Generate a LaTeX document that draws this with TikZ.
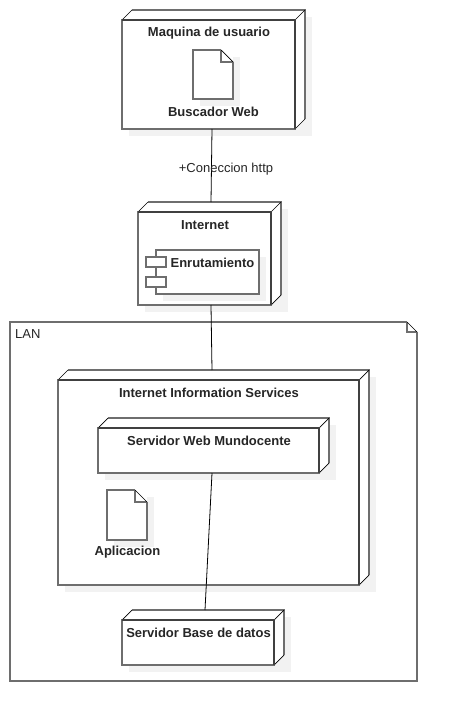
\documentclass[tikz,border=0pt]{standalone}
\usepackage{fontspec}
\setmainfont{Liberation Sans}
\usetikzlibrary{calc}
\definecolor{softgray}{HTML}{F2F2F2}
\definecolor{ink}{HTML}{262626}
\definecolor{edgegray}{HTML}{6E6E6E}
\definecolor{edgedark}{HTML}{404040}
\tikzset{
  x=1pt,y=-1pt,
  edge/.style={draw=edgegray,line width=1.5pt},
  darkedge/.style={draw=edgedark,line width=1.6pt},
  diag/.style={draw=black,line width=0.7pt},
  conn/.style={draw=black,line width=0.8pt},
  softshadow/.style={fill=softgray,draw=none},
  bold label/.style={font=\fontsize{13}{15}\selectfont\bfseries,text=ink,inner sep=0pt},
  plain label/.style={font=\fontsize{13}{15}\selectfont,text=ink,inner sep=0pt},
  box/.style={edge,fill=white,rectangle,inner sep=0pt,outer sep=0pt,anchor=north west,minimum width=0pt,minimum height=0pt}
}
% name, x1, y1, x2, y2 (front face), depth
\newcommand{\umlnode}[6]{%
  \fill[softshadow] (#2+7,#3-#6+7) rectangle (#4+#6+7,#5+7);
  \fill[white] (#2,#3) -- (#2+#6,#3-#6) -- (#4+#6,#3-#6) -- (#4+#6,#5-#6) -- (#4,#5) -- (#2,#5) -- cycle;
  \draw[edge] (#2+#6,#3-#6) -- (#4+#6,#3-#6) -- (#4+#6,#5-#6);
  \draw[diag] (#2,#3) -- (#2+#6,#3-#6);
  \draw[diag] (#4,#3) -- (#4+#6,#3-#6);
  \draw[diag] (#4,#5) -- (#4+#6,#5-#6);
  \node[box,minimum width=#4pt-#2pt,minimum height=#5pt-#3pt] (#1) at (#2,#3) {};
  \draw[darkedge] (#1.north west) -- (#1.north east) -- (#1.south east);
}
\newcommand{\umldoc}[5]{% name, x1,y1,x2,y2
  \fill[softshadow] (#2+7,#3+7) rectangle (#4+7,#5+7);
  \node[box,minimum width=#4pt-#2pt,minimum height=#5pt-#3pt,draw=none] (#1) at (#2,#3) {};
  \fill[white] (#2,#3) -- (#4-12,#3) -- (#4,#3+12) -- (#4,#5) -- (#2,#5) -- cycle;
  \draw[edge] (#4-12,#3) -- (#2,#3) -- (#2,#5) -- (#4,#5) -- (#4,#3+12);
  \draw[edge] (#4-12,#3) -- (#4-12,#3+12) -- (#4,#3+12);
  \draw[diag] (#4-12,#3) -- (#4,#3+12);
}
\begin{document}
\begin{tikzpicture}
\useasboundingbox (0,0) rectangle (458,722);
\fill[white] (0,0) rectangle (458,722);

% LAN package
\draw[edge] (407,322) -- (10,322) -- (10,681) -- (417,681) -- (417,332);
\draw[edge] (407,322) -- (407,332) -- (417,332);
\draw[diag] (407,322) -- (417,332);
\node[plain label,anchor=west] (lan) at (15,334) {LAN};

% Maquina de usuario
\umlnode{maq}{122}{20}{295}{129}{10}
\node[bold label] (maqt) at (209,33.5) {Maquina de usuario};
\umldoc{doca}{193}{50}{233}{99}
\node[bold label] (docat) at (213.5,111.5) {Buscador Web};

% Internet
\umlnode{inet}{138}{212}{271}{305}{10}
\node[bold label] (inett) at (205,225) {Internet};
\fill[softshadow] (163,257) rectangle (266,301);
\node[box,minimum width=103pt,minimum height=44pt] (comp) at (156,250) {};
\node[box,minimum width=20pt,minimum height=10pt] (compa) at (146,257) {};
\node[box,minimum width=20pt,minimum height=10pt] (compb) at (146,277) {};
\node[bold label] (compt) at (212.5,262.5) {Enrutamiento};

% Internet Information Services
\umlnode{iis}{58}{380}{359}{585}{10}
\node[bold label] (iist) at (209,392.5) {Internet Information Services};
\umlnode{web}{98}{428}{319}{473}{10}
\node[bold label] (webt) at (209,440.5) {Servidor Web Mundocente};
\umldoc{docb}{107}{490}{147}{540}
\node[bold label] (docbt) at (127.5,552.5) {Aplicacion};

% Servidor Base de datos
\umlnode{db}{122}{620}{274}{665}{10}
\node[bold label] (dbt) at (198.5,632.5) {Servidor Base de datos};

% Connectors
\draw[conn] ([xshift=90pt]maq.south west) -- ([xshift=73pt,yshift=10pt]inet.north west);
\draw[conn] ([xshift=73pt]inet.south west) -- ([xshift=154pt,yshift=10pt]iis.north west);
\draw[conn] ([xshift=114pt]web.south west) -- ([xshift=83pt,yshift=10pt]db.north west);
\node[plain label,anchor=center] (http) at (226,169) {+Coneccion http};
\end{tikzpicture}
\end{document}
